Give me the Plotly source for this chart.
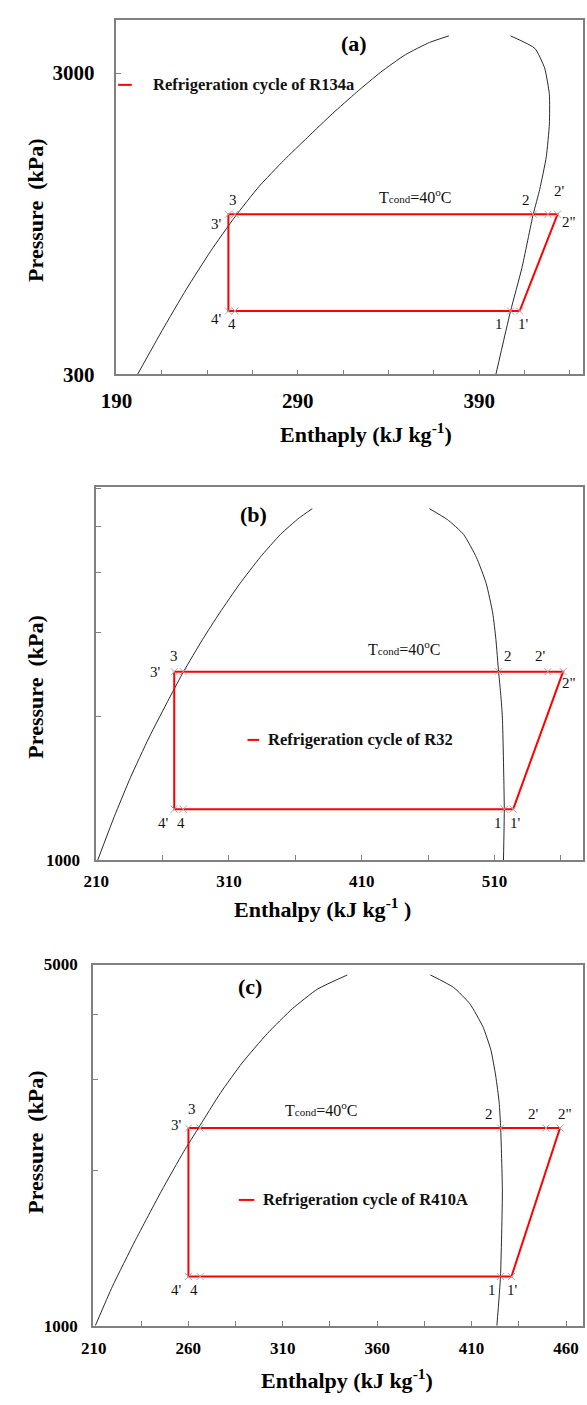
import math
import plotly.graph_objects as go

FONT = "Liberation Serif"

# ---------------- (a) R134a ----------------
a_liq_h = [201.6, 215.1, 228.5, 241.9, 255.3, 268.7, 282.1, 295.5, 308.9, 322.4, 335.8, 349.2, 362.6, 373.3]
a_liq_p = [300, 419, 575, 769, 1000, 1263, 1536, 1839, 2195, 2591, 3023, 3448, 3789, 3985]
a_vap_h = [399.2, 407.3, 413.5, 419.8, 423.4, 427.0, 428.7, 428.7, 426.1, 420.7, 407.3]
a_vap_p = [300, 487, 675, 1020, 1235, 1582, 2033, 2548, 3114, 3622, 3985]
a_pts = ["3'", "3", "2", "2'", '2"', "1'", "1", "4", "4'"]
a_pts_h = [251.7, 255.3, 419.8, 427.9, 433.2, 412.3, 407.3, 255.3, 251.7]
a_pts_p = [1020, 1020, 1020, 1020, 1020, 487, 487, 487, 487]
a_xticks = [190, 215, 240, 265, 290, 315, 340, 365, 390, 415, 440]
a_xlabels = ["190", "", "", "", "290", "", "", "", "390", "", ""]
a_yticks = [300, 3000]
a_ylabels = ["300", "3000"]

# ---------------- (b) R32 ----------------
b_liq_h = [211.2, 223.6, 235.9, 249.7, 265.0, 275.8, 290.2, 302.9, 318.3, 333.5, 348.9, 362.9, 372.8]
b_liq_p = [1000, 1232, 1490, 1802, 2179, 2480, 2897, 3288, 3792, 4301, 4807, 5202, 5439]
b_vap_h = [516.8, 517.4, 516.0, 514.8, 513.1, 511.1, 508.7, 503.8, 496.4, 486.7, 474.5, 461.0]
b_vap_p = [1000, 1278, 1982, 2213, 2480, 2897, 3288, 3792, 4301, 4807, 5162, 5439]
b_pts = ["3'", "3", "2", "2'", '2"', "1'", "1", "4", "4'"]
b_pts_h = [268.8, 275.6, 513.1, 550.2, 561.7, 524.1, 517.5, 275.6, 268.8]
b_pts_p = [2480, 2480, 2480, 2480, 2480, 1278, 1278, 1278, 1278]
b_xticks = [210, 260, 310, 360, 410, 460, 510, 560]
b_xlabels = ["210", "", "310", "", "410", "", "510", ""]
b_yticks = [1000, 2000, 3000, 4000, 5000, 6000]
b_ylabels = ["1000", "", "", "", "", ""]

# ---------------- (c) R410A ----------------
c_liq_h = [210.8, 219.9, 232.0, 245.8, 257.6, 265.4, 277.2, 288.5, 301.9, 315.1, 328.4, 344.2]
c_liq_p = [1000, 1192, 1463, 1822, 2172, 2413, 2826, 3224, 3678, 4105, 4481, 4772]
c_vap_h = [423.4, 425.3, 426.3, 425.4, 424.6, 422.8, 420.2, 416.0, 409.1, 400.5, 388.2]
c_vap_p = [1000, 1245, 1822, 2413, 2705, 3041, 3419, 3789, 4196, 4514, 4772]
c_pts = ["3'", "3", "2", "2'", '2"', "1'", "1", "4", "4'"]
c_pts_h = [260.1, 266.3, 425.4, 449.4, 456.8, 431.1, 425.3, 266.3, 260.1]
c_pts_p = [2413, 2413, 2413, 2413, 2413, 1245, 1245, 1245, 1245]
c_xticks = [210, 235, 260, 285, 310, 335, 360, 385, 410, 435, 460]
c_xlabels = ["210", "", "260", "", "310", "", "360", "", "410", "", "460"]
c_yticks = [1000, 2000, 3000, 4000, 5000]
c_ylabels = ["1000", "", "", "", "5000"]

W, H = 587, 1405


def px(x):
    return x / W


def py(y):
    return 1 - y / H


panels = [
    dict(liq_h=a_liq_h, liq_p=a_liq_p, vap_h=a_vap_h, vap_p=a_vap_p,
         pts=a_pts, pts_h=a_pts_h, pts_p=a_pts_p,
         xt=a_xticks, xl=a_xlabels, yt=a_yticks, yl=a_ylabels,
         xdom=[px(103.3), px(583)], ydom=[py(371), py(11)],
         xr=[190, 447.3], yr=[math.log10(300), 3.6536],
         tick_size=21, xstand=7, ystand=16,
         offs={"3": (-2, 14), "3'": (-12, -10), "2": (-7, 14), "2'": (12, 23), '2"': (11, -8),
               "4'": (-12, -8), "4": (-3, -13), "1": (-12, -13), "1'": (4, -13)},
         tcond=(354.5, 18),
         title="(a)", title_xy=(347, 35),
         legend_text="Refrigeration cycle of R134a", leg_line=(105, 119, 77), leg_x=139,
         ytitle_xy=(20.5, 204), xtitle="Enthaply (kJ kg<sup>-1</sup>)", xtitle_xy=(360, 430),
         xtitle_size=22),
    dict(liq_h=b_liq_h, liq_p=b_liq_p, vap_h=b_vap_h, vap_p=b_vap_p,
         pts=b_pts, pts_h=b_pts_h, pts_p=b_pts_p,
         xt=b_xticks, xl=b_xlabels, yt=b_yticks, yl=b_ylabels,
         xdom=[px(82.4), px(583.3)], ydom=[py(864), py(485)],
         xr=[210, 577.0], yr=[3, 3.7814],
         tick_size=17, xstand=5, ystand=11,
         offs={"3": (-9, 16), "3'": (-19, 0), "2": (9, 16), "2'": (-7, 16), '2"': (6, -11),
               "4'": (-11, -14), "4": (-2, -14), "1": (-6, -14), "1'": (2, -14)},
         tcond=(441.5, 24),
         title="(b)", title_xy=(244, 513),
         legend_text="Refrigeration cycle of R32", leg_line=(238, 250, 742), leg_x=257,
         ytitle_xy=(20.5, 688), xtitle="Enthalpy (kJ kg<sup>-1</sup> )", xtitle_xy=(315, 913),
         xtitle_size=22),
    dict(liq_h=c_liq_h, liq_p=c_liq_p, vap_h=c_vap_h, vap_p=c_vap_p,
         pts=c_pts, pts_h=c_pts_h, pts_p=c_pts_p,
         xt=c_xticks, xl=c_xlabels, yt=c_yticks, yl=c_ylabels,
         xdom=[px(79), px(583.3)], ydom=[py(1336.7), py(970)],
         xr=[209.5, 469.2], yr=[3, 3.699],
         tick_size=17, xstand=6, ystand=10,
         offs={"3": (-8, 19), "3'": (-12, 3), "2": (-12, 14), "2'": (-12, 14), '2"': (5, 14),
               "4'": (-12, -13), "4": (-6, -13), "1": (-8, -13), "1'": (1, -13)},
         tcond=(330.1, 19),
         title="(c)", title_xy=(241, 992),
         legend_text="Refrigeration cycle of R410A", leg_line=(229, 245, 1209), leg_x=252,
         ytitle_xy=(20.5, 1150), xtitle="Enthalpy (kJ kg<sup>-1</sup>)", xtitle_xy=(340, 1391),
         xtitle_size=22),
]

fig = go.Figure()
annotations = []
shapes = []
layout_axes = {}

for i, p in enumerate(panels, start=1):
    xa = "x" if i == 1 else f"x{i}"
    ya = "y" if i == 1 else f"y{i}"
    xkey = "xaxis" if i == 1 else f"xaxis{i}"
    ykey = "yaxis" if i == 1 else f"yaxis{i}"

    # saturation dome
    for hh, pp in ((p["liq_h"], p["liq_p"]), (p["vap_h"], p["vap_p"])):
        fig.add_trace(go.Scatter(x=hh, y=pp, mode="lines", xaxis=xa, yaxis=ya,
                                 line=dict(color="#2a2a2a", width=1, shape="spline", smoothing=0.5),
                                 showlegend=False, hoverinfo="skip"))

    # refrigeration cycle polygon: 3' -> 2" -> 1' -> 4' -> 3'
    idx = {lab: k for k, lab in enumerate(p["pts"])}
    order = ["3'", '2"', "1'", "4'", "3'"]
    fig.add_trace(go.Scatter(x=[p["pts_h"][idx[o]] for o in order],
                             y=[p["pts_p"][idx[o]] for o in order],
                             mode="lines", xaxis=xa, yaxis=ya,
                             line=dict(color="#ff0000", width=2),
                             showlegend=False, hoverinfo="skip"))
    # state-point markers
    fig.add_trace(go.Scatter(x=p["pts_h"], y=p["pts_p"], mode="markers", xaxis=xa, yaxis=ya,
                             marker=dict(symbol="x-thin", size=7,
                                         line=dict(color="#a8a8a8", width=1)),
                             showlegend=False, hoverinfo="skip"))

    # state-point labels
    for lab, hh, pp in zip(p["pts"], p["pts_h"], p["pts_p"]):
        dx, dy = p["offs"][lab]
        annotations.append(dict(x=hh, y=math.log10(pp), xref=xa, yref=ya, text=lab,
                                xanchor="center", yanchor="middle",
                                showarrow=False, xshift=dx, yshift=dy,
                                font=dict(family=FONT, size=15, color="#111")))
    # Tcond label
    th, tdy = p["tcond"]
    annotations.append(dict(x=th, y=math.log10(p["pts_p"][0]), xref=xa, yref=ya,
                            text="T<span style='font-size:11px'>cond</span>=40<sup>o</sup>C",
                            xanchor="center", yanchor="middle",
                            showarrow=False, yshift=tdy,
                            font=dict(family=FONT, size=16, color="#111")))
    # panel title
    tx, ty = p["title_xy"]
    annotations.append(dict(x=px(tx), y=py(ty), xref="paper", yref="paper",
                            xanchor="center", yanchor="middle",
                            text=f"<b>{p['title']}</b>", showarrow=False,
                            font=dict(family=FONT, size=22, color="#000")))
    # legend
    lx0, lx1, ly = p["leg_line"]
    shapes.append(dict(type="line", xref="paper", yref="paper", x0=px(lx0), x1=px(lx1),
                       y0=py(ly), y1=py(ly), line=dict(color="#ff0000", width=2)))
    annotations.append(dict(x=px(p["leg_x"]), y=py(ly), xref="paper", yref="paper",
                            xanchor="left", yanchor="middle",
                            text=f"<b>{p['legend_text']}</b>", showarrow=False,
                            font=dict(family=FONT, size=16.5, color="#111")))
    # axis titles
    yx, yy = p["ytitle_xy"]
    annotations.append(dict(x=px(yx), y=py(yy), xref="paper", yref="paper",
                            xanchor="center", yanchor="middle",
                            text="<b>Pressure  (kPa)</b>", textangle=-90, showarrow=False,
                            font=dict(family=FONT, size=22, color="#000")))
    xx, xy = p["xtitle_xy"]
    annotations.append(dict(x=px(xx), y=py(xy), xref="paper", yref="paper",
                            xanchor="center", yanchor="middle",
                            text=f"<b>{p['xtitle']}</b>", showarrow=False,
                            font=dict(family=FONT, size=p["xtitle_size"], color="#000")))

    common = dict(showline=True, linecolor="#808080", linewidth=1.5, mirror=True,
                  ticks="inside", ticklen=5, tickwidth=1, tickcolor="#808080",
                  showgrid=False, zeroline=False,
                  tickfont=dict(family=FONT, size=p["tick_size"], color="#000", weight="bold"))
    layout_axes[xkey] = dict(domain=p["xdom"], range=p["xr"], anchor=ya,
                             tickmode="array", tickvals=p["xt"], ticktext=p["xl"],
                             ticklabelstandoff=p["xstand"], **common)
    layout_axes[ykey] = dict(domain=p["ydom"], range=p["yr"], anchor=xa, type="log",
                             tickmode="array", tickvals=p["yt"], ticktext=p["yl"],
                             ticklabelstandoff=p["ystand"], **common)

fig.update_layout(width=W, height=H, margin=dict(l=0, r=0, t=0, b=0),
                  paper_bgcolor="white", plot_bgcolor="white",
                  annotations=annotations, shapes=shapes, showlegend=False,
                  **layout_axes)

fig.write_html("out.html")
